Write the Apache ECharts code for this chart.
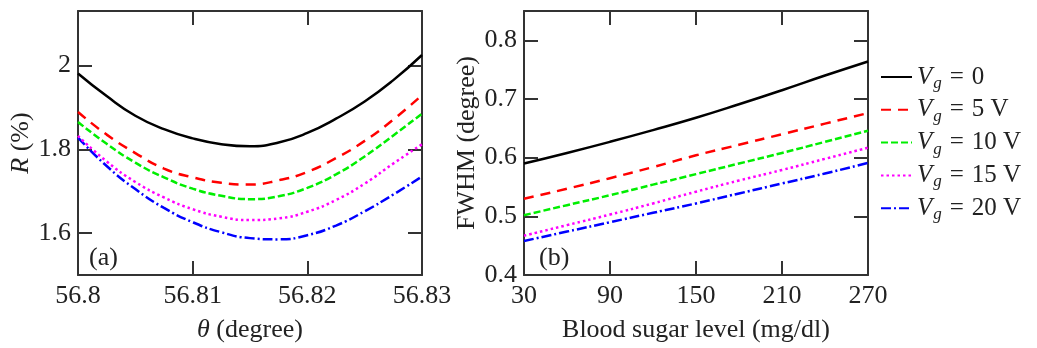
<!DOCTYPE html>
<html>
<head>
<meta charset="utf-8">
<script src="https://cdn.jsdelivr.net/npm/echarts@6/dist/echarts.min.js"></script>
<style>
  html, body { margin: 0; padding: 0; background: #fff; }
  #chart { width: 1037px; height: 348px; }
</style>
</head>
<body>
<div id="chart"></div>
<script>
// panel (a): reflectance vs angle
const theta = [56.8, 56.8025, 56.805, 56.8075, 56.81, 56.8125, 56.815, 56.8175, 56.82, 56.8225, 56.825, 56.8275, 56.83];
const rV0  = [1.981, 1.927, 1.880, 1.848, 1.826, 1.812, 1.807, 1.816, 1.839, 1.873, 1.914, 1.965, 2.025];
const rV5  = [1.889, 1.835, 1.791, 1.754, 1.733, 1.720, 1.716, 1.726, 1.746, 1.779, 1.820, 1.871, 1.929];
const rV10 = [1.865, 1.813, 1.768, 1.733, 1.706, 1.689, 1.681, 1.688, 1.708, 1.740, 1.783, 1.833, 1.885];
const rV15 = [1.832, 1.771, 1.722, 1.685, 1.657, 1.639, 1.631, 1.635, 1.651, 1.679, 1.718, 1.766, 1.812];
const rV20 = [1.828, 1.760, 1.705, 1.660, 1.626, 1.602, 1.588, 1.585, 1.595, 1.618, 1.652, 1.692, 1.735];

// panel (b): FWHM vs blood sugar
const sugar = [30, 60, 90, 120, 150, 180, 210, 240, 270];
const fV0  = [0.590, 0.608, 0.627, 0.647, 0.668, 0.691, 0.715, 0.740, 0.764];
const fV5  = [0.530, 0.547, 0.565, 0.584, 0.604, 0.622, 0.640, 0.658, 0.676];
const fV10 = [0.502, 0.519, 0.536, 0.554, 0.572, 0.590, 0.608, 0.627, 0.646];
const fV15 = [0.467, 0.485, 0.503, 0.522, 0.542, 0.561, 0.579, 0.598, 0.617];
const fV20 = [0.458, 0.474, 0.490, 0.506, 0.522, 0.539, 0.556, 0.573, 0.591];

const names = ['V0', 'V5', 'V10', 'V15', 'V20'];
const legendText = {
  V0: '{v|V}{g|g}{e|=}{t|0}',
  V5: '{v|V}{g|g}{e|=}{t|5 V}',
  V10: '{v|V}{g|g}{e|=}{t|10 V}',
  V15: '{v|V}{g|g}{e|=}{t|15 V}',
  V20: '{v|V}{g|g}{e|=}{t|20 V}'
};
const thetaTicks = [56.8, 56.81, 56.82, 56.83];
const rTicks = [1.6, 1.8, 2.0];
const sugarTicks = [30, 90, 150, 210, 270];
const fTicks = [0.4, 0.5, 0.6, 0.7, 0.8];

const colors = ['#000000', '#ff0000', '#00ee00', '#ff00ff', '#0000ff'];
const dashes = ['solid', [10, 7], [7, 3], [2.5, 3], [10, 3, 2, 3]];

const FONT = '"Liberation Serif", "Times New Roman", serif';
const FS = 26;
const TXT = '#222';
const AX = '#333';

function axisBase(gridIndex, ticks, showLabel) {
  return {
    type: 'value',
    gridIndex,
    axisLine: { show: true, onZero: false, lineStyle: { color: AX, width: 2 } },
    axisTick: { show: true, inside: true, length: 14, customValues: ticks, lineStyle: { color: AX, width: 2 } },
    axisLabel: { show: showLabel, customValues: ticks, fontFamily: FONT, fontSize: FS, color: TXT },
    splitLine: { show: false }
  };
}

const italic = { i: { fontFamily: FONT, fontSize: FS, fontStyle: 'italic', color: TXT } };

const xAxes = [
  Object.assign(axisBase(0, thetaTicks, true), {
    min: 56.8, max: 56.83, position: 'bottom',
    name: '{i|θ} (degree)', nameLocation: 'middle', nameGap: 42,
    nameTextStyle: { fontFamily: FONT, fontSize: FS, color: TXT, rich: italic }
  }),
  Object.assign(axisBase(0, thetaTicks, false), { min: 56.8, max: 56.83, position: 'top' }),
  Object.assign(axisBase(1, sugarTicks, true), {
    min: 30, max: 270, position: 'bottom',
    name: 'Blood sugar level (mg/dl)', nameLocation: 'middle', nameGap: 42,
    nameTextStyle: { fontFamily: FONT, fontSize: FS, color: TXT }
  }),
  Object.assign(axisBase(1, sugarTicks, false), { min: 30, max: 270, position: 'top' })
];
xAxes[0].axisLabel.margin = 8;
xAxes[2].axisLabel.margin = 8;

const yAxes = [
  Object.assign(axisBase(0, rTicks, true), {
    min: 1.5, max: 2.13, position: 'left',
    name: '{i|R} (%)', nameLocation: 'middle', nameGap: 40,
    nameTextStyle: { fontFamily: FONT, fontSize: FS, color: TXT, rich: italic }
  }),
  Object.assign(axisBase(0, rTicks, false), { min: 1.5, max: 2.13, position: 'right' }),
  Object.assign(axisBase(1, fTicks, true), {
    min: 0.4, max: 0.85, position: 'left',
    name: 'FWHM (degree)', nameLocation: 'middle', nameGap: 43,
    nameTextStyle: { fontFamily: FONT, fontSize: FS, color: TXT }
  }),
  Object.assign(axisBase(1, fTicks, false), { min: 0.4, max: 0.85, position: 'right' })
];
yAxes[0].axisLabel.margin = 7;
yAxes[2].axisLabel.margin = 7;

function zip(xs, ys) {
  return xs.map((x, i) => [x, ys[i]]);
}

const rSets = [rV0, rV5, rV10, rV15, rV20];
const fSets = [fV0, fV5, fV10, fV15, fV20];
const series = [];
names.forEach((n, k) => {
  const ls = { color: colors[k], width: 2.5, type: dashes[k], cap: 'butt' };
  series.push({
    name: n, type: 'line', xAxisIndex: 0, yAxisIndex: 0,
    data: zip(theta, rSets[k]), smooth: 0.5, symbol: 'none',
    itemStyle: { color: colors[k] }, lineStyle: ls, z: 10 - k
  });
  series.push({
    name: n, type: 'line', xAxisIndex: 2, yAxisIndex: 2,
    data: zip(sugar, fSets[k]), smooth: 0.5, symbol: 'none',
    itemStyle: { color: colors[k] }, lineStyle: ls, z: 10 - k
  });
});

const chart = echarts.init(document.getElementById('chart'), null, { renderer: 'canvas' });
chart.setOption({
  backgroundColor: '#fff',
  animation: false,
  grid: [
    { left: 78, top: 11, width: 344, height: 264 },
    { left: 524, top: 11, width: 344, height: 264 }
  ],
  xAxis: xAxes,
  yAxis: yAxes,
  legend: {
    data: names,
    orient: 'vertical',
    left: 880,
    top: 62,
    padding: 0,
    itemWidth: 31,
    itemHeight: 14,
    itemGap: 2.8,
    itemStyle: { opacity: 0 },
    formatter: (n) => legendText[n],
    textStyle: {
      fontFamily: FONT, fontSize: 25, color: TXT,
      rich: {
        v: { fontFamily: FONT, fontSize: 25, fontStyle: 'italic', lineHeight: 30, color: TXT },
        g: { fontFamily: FONT, fontSize: 17, fontStyle: 'italic', lineHeight: 17, padding: [13, 0, 0, 1], color: TXT },
        e: { fontFamily: FONT, fontSize: 25, lineHeight: 30, padding: [0, 8, 0, 8], color: TXT },
        t: { fontFamily: FONT, fontSize: 25, lineHeight: 30, color: TXT }
      }
    }
  },
  title: [
    { text: '(a)', left: 89, top: 245, padding: 0, textStyle: { fontFamily: FONT, fontSize: FS, fontWeight: 'normal', color: TXT } },
    { text: '(b)', left: 539, top: 245, padding: 0, textStyle: { fontFamily: FONT, fontSize: FS, fontWeight: 'normal', color: TXT } }
  ],
  series
});
</script>
</body>
</html>
